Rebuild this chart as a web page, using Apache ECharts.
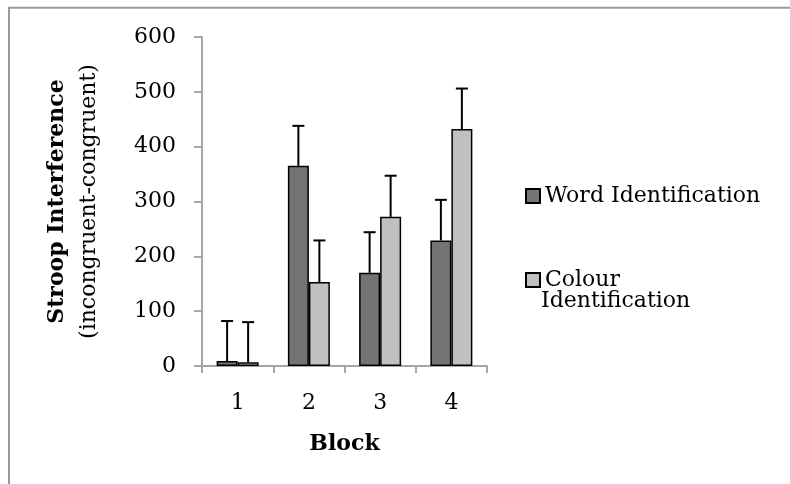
<!DOCTYPE html>
<html>
<head>
<meta charset="utf-8">
<script src="https://cdn.jsdelivr.net/npm/echarts@6/dist/echarts.min.js"></script>
<style>
html,body{margin:0;padding:0;background:#fff;}
#chart{width:790px;height:484px;}
</style>
</head>
<body>
<div id="chart"></div>
<script>
const categories = ['1', '2', '3', '4'];
const seriesNames = ['Word Identification', 'Colour Identification'];
const wordValues = [9, 365, 170, 229];
const wordErrors = [73, 73, 74, 74];
const colourValues = [7, 153, 272, 432];
const colourErrors = [73, 76, 75, 74];
const yTicks = [0, 100, 200, 300, 400, 500, 600];

const FONT = '"DejaVu Serif", serif';
const chart = echarts.init(document.getElementById('chart'), null, {renderer: 'canvas'});

function errorSeries(values, errors, offset) {
  return {
    type: 'custom',
    z: 5,
    silent: true,
    data: values.map((v, i) => [i, v, errors[i]]),
    encode: {x: 0, y: [1, 2]},
    renderItem: function (params, api) {
      const i = api.value(0), v = api.value(1), e = api.value(2);
      const base = api.coord([i, v]);
      const top = api.coord([i, v + e]);
      const cx = base[0] + offset;
      const st = {stroke: '#000', lineWidth: 2};
      return {
        type: 'group',
        children: [
          {type: 'line', shape: {x1: cx, y1: base[1], x2: cx, y2: top[1]}, style: st},
          {type: 'line', shape: {x1: cx - 6, y1: top[1], x2: cx + 6, y2: top[1]}, style: st}
        ]
      };
    }
  };
}

const option = {
  animation: false,
  backgroundColor: '#fff',
  textStyle: {fontFamily: FONT},
  graphic: [
    {type: 'rect', shape: {x: 9, y: 7.7, width: 900, height: 700}, style: {fill: 'none', stroke: '#9a9a9a', lineWidth: 2}, z: -1},
    {type: 'text', left: 541, top: 290, style: {text: 'Identification', font: '22px ' + FONT, fill: '#000'}}
  ],
  grid: {left: 202, top: 37, width: 285, height: 329},
  legend: {
    orient: 'vertical',
    left: 520,
    top: 176,
    icon: 'rect',
    itemWidth: 14,
    itemHeight: 14,
    itemGap: 54,
    data: seriesNames,
    formatter: function (name) { return name === 'Colour Identification' ? 'Colour' : name; },
    textStyle: {fontFamily: FONT, fontSize: 22, color: '#000', lineHeight: 30}
  },
  xAxis: {
    type: 'category',
    data: categories,
    axisLine: {lineStyle: {color: '#a6a6a6', width: 2}},
    axisTick: {show: true, length: 7, lineStyle: {color: '#a6a6a6', width: 2}},
    axisLabel: {color: '#000', fontFamily: FONT, fontSize: 22, margin: 26},
    name: 'Block',
    nameLocation: 'middle',
    nameGap: 67,
    nameTextStyle: {color: '#000', fontFamily: FONT, fontSize: 22, fontWeight: 'bold'}
  },
  yAxis: {
    type: 'value',
    min: yTicks[0],
    max: yTicks[yTicks.length - 1],
    interval: yTicks[1] - yTicks[0],
    axisLine: {show: true, lineStyle: {color: '#a6a6a6', width: 2}},
    axisTick: {show: true, length: 8, lineStyle: {color: '#a6a6a6', width: 2}},
    splitLine: {show: false},
    axisLabel: {color: '#000', fontFamily: FONT, fontSize: 22, margin: 26, padding: [6, 0, 0, 0]},
    name: '{b|Stroop Interference}\n{n|(incongruent-congruent)}',
    nameLocation: 'middle',
    nameRotate: 90,
    nameGap: 97,
    nameTextStyle: {
      color: '#000', fontFamily: FONT, fontSize: 22,
      rich: {
        b: {fontFamily: FONT, fontSize: 22, fontWeight: 'bold', lineHeight: 32, align: 'center'},
        n: {fontFamily: FONT, fontSize: 22, lineHeight: 32, align: 'center'}
      }
    }
  },
  series: [
    {
      name: seriesNames[0], type: 'bar', data: wordValues, barWidth: 21, barGap: '0%',
      itemStyle: {color: '#747474', borderColor: '#000', borderWidth: 1.5}
    },
    {
      name: seriesNames[1], type: 'bar', data: colourValues, barWidth: 21, barGap: '0%',
      itemStyle: {color: '#c0c0c0', borderColor: '#000', borderWidth: 1.5}
    },
    errorSeries(wordValues, wordErrors, -10.5),
    errorSeries(colourValues, colourErrors, 10.5)
  ]
};
chart.setOption(option);
</script>
</body>
</html>
